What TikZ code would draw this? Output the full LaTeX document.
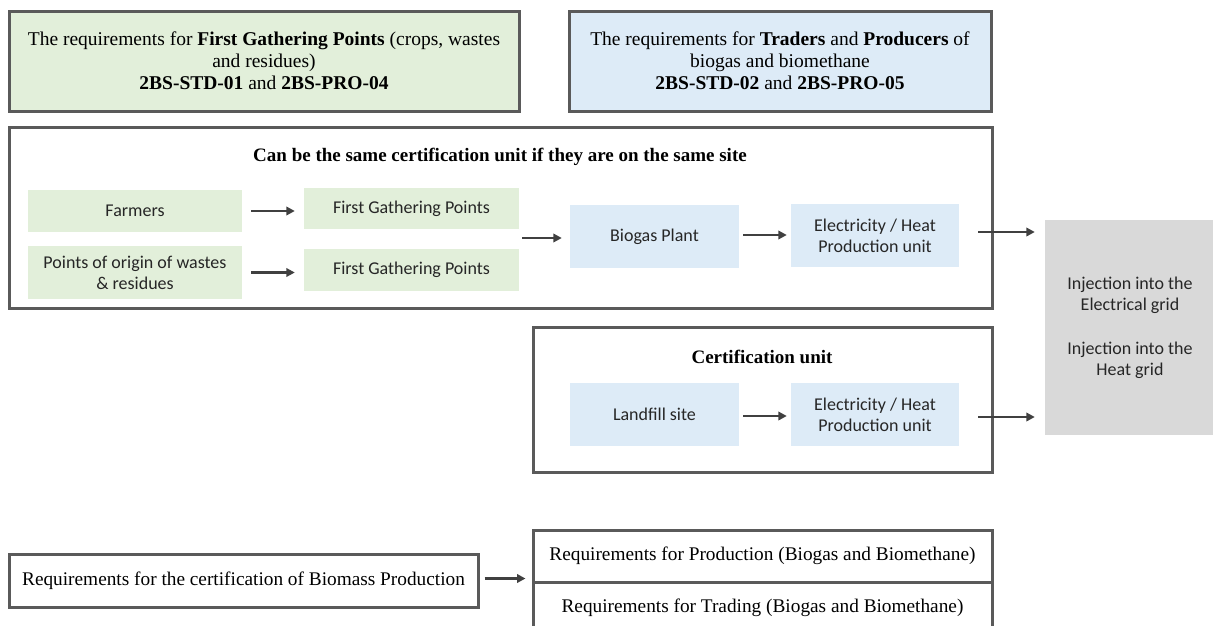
\documentclass[tikz,border=0pt]{standalone}
\usepackage{fontspec}
\setmainfont{Liberation Serif}
\newfontfamily\calib{Carlito}
\usetikzlibrary{arrows.meta}
\definecolor{bord}{HTML}{5A5A5A}
\definecolor{grfill}{HTML}{E2EFDA}
\definecolor{blfill}{HTML}{DDEBF7}
\definecolor{gyfill}{HTML}{D9D9D9}
\definecolor{arr}{HTML}{404040}
\definecolor{txt}{HTML}{262626}
\tikzset{
  frame/.style={draw=bord, line width=3pt, inner sep=0pt},
  head/.style={frame, align=center, font=\fontsize{19.5}{22}\selectfont, text=black},
  sbox/.style={inner sep=0pt, align=center, font=\calib\fontsize{18}{21}\selectfont, text=txt},
  gbox/.style={sbox, fill=grfill},
  bbox/.style={sbox, fill=blfill},
  ttl/.style={font=\bfseries\fontsize{19}{22}\selectfont, inner sep=0pt},
  req/.style={frame, align=center, font=\fontsize{19.3}{22}\selectfont},
  flow/.style={draw=arr, line width=2.6pt, -{Triangle[length=8.5pt,width=8.5pt]}},
}
\begin{document}
\begin{tikzpicture}[x=1pt,y=-1pt]
\useasboundingbox (0,0) rectangle (1213,625);
\clip (0,0) rectangle (1213,625);
% top headers
\node[head, fill=grfill, minimum width=510pt, minimum height=100pt] (hg) at (264,61)
  {The requirements for \textbf{First Gathering Points} (crops, wastes\\ and residues)\\ \textbf{2BS-STD-01} and \textbf{2BS-PRO-04}};
\node[head, fill=blfill, minimum width=422pt, minimum height=100pt] (hb) at (780,61)
  {The requirements for \textbf{Traders} and \textbf{Producers} of\\ biogas and biomethane\\ \textbf{2BS-STD-02} and \textbf{2BS-PRO-05}};
% big frame
\node[frame, minimum width=983pt, minimum height=181pt] (big) at (500.5,217.5) {};
\node[ttl] (bigt) at (500,157) {Can be the same certification unit if they are on the same site};
\node[gbox, minimum width=214pt, minimum height=42pt] (farm) at (135,211) {Farmers};
\node[gbox, minimum width=215pt, minimum height=41pt] (fgp1) at (411.5,208.5) {First Gathering Points};
\node[gbox, minimum width=214pt, minimum height=53pt] (orig) at (135,272.5) {Points of origin of wastes\\ \& residues};
\node[gbox, minimum width=215pt, minimum height=42pt] (fgp2) at (411.5,270) {First Gathering Points};
\node[bbox, minimum width=169pt, minimum height=63pt] (bio) at (654.5,236.5) {Biogas Plant};
\node[bbox, minimum width=168pt, minimum height=63pt] (el1) at (875,235.5) {Electricity / Heat\\ Production unit};
% certification unit
\node[frame, minimum width=459pt, minimum height=145pt] (cert) at (762.5,399.5) {};
\node[ttl] (certt) at (762,357) {Certification unit};
\node[bbox, minimum width=169pt, minimum height=63pt] (land) at (654.5,414.5) {Landfill site};
\node[bbox, minimum width=168pt, minimum height=63pt] (el2) at (875,414.5) {Electricity / Heat\\ Production unit};
% grid
\node[sbox, fill=gyfill, minimum width=170pt, minimum height=215pt] (grid) at (1130,327.5)
  {Injection into the\\ Electrical grid\\[23pt] Injection into the\\ Heat grid};
% bottom
\node[req, minimum width=469pt, minimum height=53pt] (bm) at (243.5,580.5) {Requirements for the certification of Biomass Production};
\node[req, minimum width=459pt, minimum height=52pt] (prod) at (762.5,556) {Requirements for Production (Biogas and Biomethane)};
\node[req, minimum width=459pt, minimum height=52pt] (trad) at (762.5,608) {Requirements for Trading (Biogas and Biomethane)};
% connectors
\coordinate (fgpout) at (519,238);
\draw[flow, shorten <=9pt, shorten >=9pt] (farm.east) -- (farm.east -| fgp1.west);
\draw[flow, shorten <=9pt, shorten >=9pt] (orig.east) -- (orig.east -| fgp2.west);
\draw[flow, shorten <=3pt, shorten >=8pt] (fgpout) -- (fgpout -| bio.west);
\draw[flow, shorten <=4pt, shorten >=4pt] ([yshift=1.5pt]bio.east) -- ([yshift=1.5pt]bio.east -| el1.west);
\draw[flow, shorten <=19pt, shorten >=10pt] ([yshift=3.5pt]el1.east) -- ([yshift=3.5pt]el1.east -| grid.west);
\draw[flow, shorten <=4pt, shorten >=4pt] ([yshift=-1.5pt]land.east) -- ([yshift=-1.5pt]land.east -| el2.west);
\draw[flow, shorten <=19pt, shorten >=10pt] ([yshift=-2.5pt]el2.east) -- ([yshift=-2.5pt]el2.east -| grid.west);
\draw[flow, shorten <=5pt, shorten >=6pt] ([yshift=2pt]bm.east) -- ([yshift=2pt]bm.east -| prod.west);
\end{tikzpicture}
\end{document}
